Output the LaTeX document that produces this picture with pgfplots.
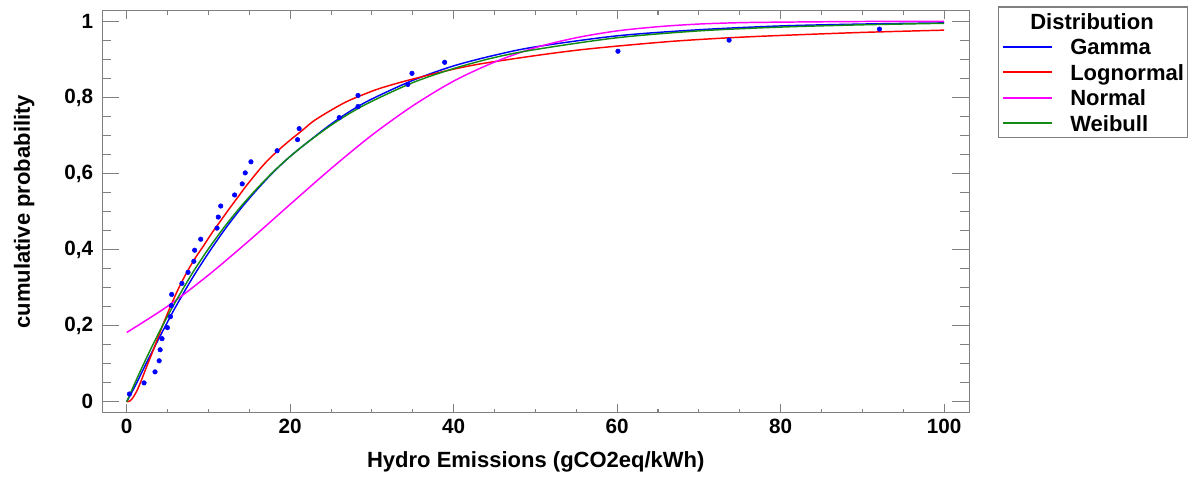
\documentclass[border=0pt]{standalone}
\usepackage{pgfplots}
\pgfplotsset{compat=1.18}
\usepackage{pgfplotstable}
\usepackage{fontspec}
\setmainfont{Liberation Sans}

\definecolor{fitblue}{RGB}{0,0,255}
\definecolor{fitred}{RGB}{255,0,0}
\definecolor{fitmagenta}{RGB}{255,0,255}
\definecolor{fitgreen}{RGB}{20,140,20}
\definecolor{axisgray}{RGB}{128,128,128}

% empirical cumulative probabilities (median ranks)
\pgfplotstableread{
x y
0.33 0.0203
2.12 0.0494
3.46 0.0785
3.97 0.1076
4.09 0.1366
4.32 0.1657
4.98 0.1948
5.35 0.2238
5.46 0.2529
5.50 0.2820
6.75 0.3110
7.50 0.3401
8.21 0.3692
8.31 0.3983
9.05 0.4273
11.05 0.4564
11.20 0.4855
11.50 0.5145
13.20 0.5436
14.13 0.5727
14.50 0.6017
15.20 0.6308
18.40 0.6599
20.90 0.6890
21.10 0.7180
26.00 0.7471
28.30 0.7762
28.30 0.8052
34.40 0.8343
34.90 0.8634
38.90 0.8924
60.10 0.9215
73.70 0.9506
92.10 0.9797
}\ecdf

\pgfplotstableread{
x y
0 0
1 0.040
2 0.084
3 0.127
4 0.169
5 0.210
6 0.250
8 0.324
10 0.391
12 0.453
14 0.509
16 0.559
18 0.605
20 0.645
22 0.680
25 0.730
27.5 0.766
30 0.796
35 0.845
40 0.883
45 0.911
50 0.933
60 0.962
70 0.978
80 0.988
90 0.993
100 0.996
}\gammafit

\pgfplotstableread{
x y
0 0
0.4 0.002
0.8 0.012
1.2 0.027
1.6 0.046
2.4 0.090
3.2 0.133
4.2 0.190
5.3 0.248
6.3 0.296
7.3 0.338
8.3 0.375
9.4 0.410
10.4 0.443
11.4 0.473
12.4 0.503
13.5 0.535
14.5 0.564
15.5 0.591
16.5 0.617
17.5 0.640
18.7 0.664
20.0 0.688
21.4 0.712
22.8 0.737
24.8 0.764
26.9 0.789
29.0 0.808
31.0 0.824
34.4 0.845
39.1 0.870
43.2 0.888
50 0.910
55 0.924
60 0.935
67 0.948
73.8 0.957
80 0.963
90 0.971
100 0.977
}\lognormalfit

\pgfplotstableread{
x y
0 0.182
5 0.251
10 0.333
15 0.424
20 0.519
25 0.613
30 0.701
35 0.778
40 0.843
45 0.893
50 0.931
55 0.957
60 0.975
65 0.986
70 0.993
75 0.9966
80 0.998
90 0.9997
100 1.0
}\normalfit

\pgfplotstableread{
x y
0 0
1 0.049
2 0.096
3 0.141
4 0.184
5 0.225
6 0.264
8 0.337
10 0.402
12 0.461
14 0.514
16 0.562
18 0.606
20 0.645
22 0.680
25 0.727
27.5 0.761
30 0.790
35 0.839
40 0.876
45 0.905
50 0.926
60 0.957
70 0.975
80 0.985
90 0.991
100 0.995
}\weibullfit

\pgfplotsset{
  frame/.style={
    at={(76.9pt,49.7pt)}, anchor=south west,
    scale only axis, width=649.9pt, height=301.5pt,
    xmin=-2.96, xmax=103.06, ymin=-0.029, ymax=1.028,
    axis line style={axisgray, line width=0.8pt},
    tick style={axisgray, line width=0.8pt},
    tick align=inside,
  },
}

\begin{document}
\begin{tikzpicture}
\useasboundingbox (0,0) rectangle (896.25pt,359.25pt);

% main axis: curves, points, labels and x ticks
\begin{axis}[frame,
  xtick={0,20,40,60,80,100}, minor x tick num=3,
  ytick={0,0.2,0.4,0.6,0.8,1}, minor y tick num=3,
  major tick length=6.4pt, minor tick length=3pt,
  /pgf/number format/assume math mode=true,
  tick label style={font=\bfseries\fontsize{15.5}{18}\selectfont},
  yticklabel style={/pgf/number format/use comma, xshift=-3.5pt},
  xticklabel style={yshift=-1.5pt},
  xlabel={Hydro Emissions (gCO2eq/kWh)},
  ylabel={cumulative probability},
  every axis x label/.style={at={(axis description cs:0.5,-0.1219)}, anchor=center,
    font=\bfseries\fontsize{16.5}{19}\selectfont},
  every axis y label/.style={at={(axis description cs:-0.0903,0.5)}, rotate=90, anchor=center,
    font=\bfseries\fontsize{16.5}{19}\selectfont},
  legend cell align=left,
  legend image code/.code={\draw[#1, line width=1.2pt] (0pt,0pt) -- (36.75pt,0pt);},
  legend style={
    at={(axis description cs:1,1)}, anchor=north west,
    xshift=22pt, yshift=3.2pt,
    draw=axisgray, line width=0.8pt,
    font=\bfseries\fontsize{16.5}{19}\selectfont,
    inner xsep=2.8pt, inner ysep=1.2pt,
    row sep=0pt,
    nodes={inner sep=0pt, text height=15.45pt, text depth=3.65pt},
    /tikz/every odd column/.append style={column sep=12.75pt},
  },
]
\addlegendimage{empty legend}
\addlegendentry{\hspace{-30pt}Distribution}

\addplot[fitblue, line width=1.1pt, smooth] table {\gammafit};
\addlegendentry{Gamma}
\addplot[fitred, line width=1.1pt, smooth] table {\lognormalfit};
\addlegendentry{Lognormal}
\addplot[fitmagenta, line width=1.1pt, smooth] table {\normalfit};
\addlegendentry{Normal}
\addplot[fitgreen, line width=1.1pt, smooth] table {\weibullfit};
\addlegendentry{Weibull}

\addplot[forget plot, only marks, mark=*, mark size=1.7pt, fitblue] table {\ecdf};
\end{axis}

% longer y ticks on both vertical sides
\begin{axis}[frame,
  axis line style={draw=none},
  xtick=\empty,
  ytick={0,0.2,0.4,0.6,0.8,1}, minor y tick num=3,
  yticklabels={},
  major tick length=12.5pt, minor tick length=6.5pt,
]
\end{axis}
\end{tikzpicture}
\end{document}
